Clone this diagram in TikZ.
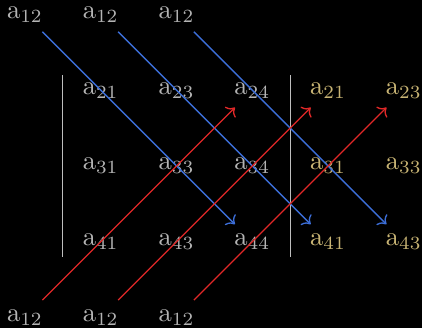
\documentclass[tikz,border=0pt]{standalone}
\usepackage{xcolor}
\usetikzlibrary{arrows.meta, backgrounds}

\definecolor{txtgray}{HTML}{B4B4B4}
\definecolor{txtgold}{HTML}{C8B474}
\definecolor{lnblue}{HTML}{3C6ED8}
\definecolor{lnred}{HTML}{E02828}
\definecolor{lngray}{HTML}{BEBEBE}

\begin{document}
\begin{tikzpicture}[
		entry/.style={text=txtgray},
		copyentry/.style={text=txtgold},
		down/.style={->, lnblue, line width=0.5pt},
		up/.style={->, lnred, line width=0.5pt}
	]
		\useasboundingbox[fill=black] (-0.33,-0.14) rectangle (5.24,4.19);
		
		% 上下两行
		\foreach \i in {0,1,2} {
			\node[entry] (t\i) at (\i,4) {a$_{12}$};
			\node[entry] (b\i) at (\i,0) {a$_{12}$};
		}
		
		% 矩阵元素
		\node[entry] (m21) at (1,3) {a$_{21}$};
		\node[entry] (m23) at (2,3) {a$_{23}$};
		\node[entry] (m24) at (3,3) {a$_{24}$};
		\node[entry] (m31) at (1,2) {a$_{31}$};
		\node[entry] (m33) at (2,2) {a$_{33}$};
		\node[entry] (m34) at (3,2) {a$_{34}$};
		\node[entry] (m41) at (1,1) {a$_{41}$};
		\node[entry] (m43) at (2,1) {a$_{43}$};
		\node[entry] (m44) at (3,1) {a$_{44}$};
		
		% 复制的两列
		\node[copyentry] (c21) at (4,3) {a$_{21}$};
		\node[copyentry] (c23) at (5,3) {a$_{23}$};
		\node[copyentry] (c31) at (4,2) {a$_{31}$};
		\node[copyentry] (c33) at (5,2) {a$_{33}$};
		\node[copyentry] (c41) at (4,1) {a$_{41}$};
		\node[copyentry] (c43) at (5,1) {a$_{43}$};
		
		% 竖线
		\coordinate (l1) at (0.5,3.2);
		\coordinate (l2) at (0.5,0.8);
		\coordinate (r1) at (3.5,3.2);
		\coordinate (r2) at (3.5,0.8);
		\draw[lngray] (l1) -- (l2);
		\draw[lngray] (r1) -- (r2);
		
		% 对角线
		\draw[down] (t0) -- (m44);
		\draw[down] (t1) -- (c41);
		\draw[down] (t2) -- (c43);
		\draw[up] (b0) -- (m24);
		\draw[up] (b1) -- (c21);
		\draw[up] (b2) -- (c23);
	\end{tikzpicture}
\end{document}
